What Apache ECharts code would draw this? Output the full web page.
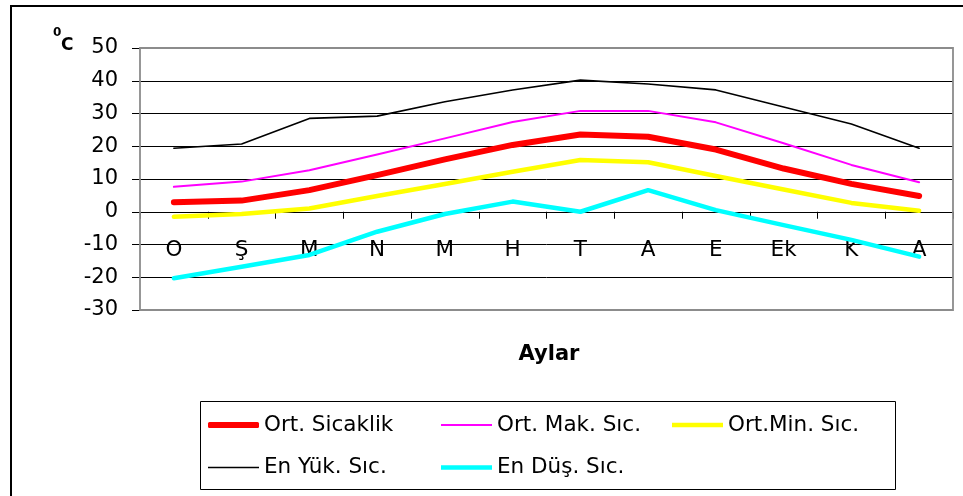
<!DOCTYPE html>
<html>
<head>
<meta charset="utf-8">
<script src="https://cdn.jsdelivr.net/npm/echarts@6/dist/echarts.min.js"></script>
<style>
  html, body { margin: 0; padding: 0; background: #fff; }
  #chart { width: 963px; height: 496px; }
</style>
</head>
<body>
<div id="chart"></div>
<script>
// months (Ocak .. Aralık)
const months = ['O', 'Ş', 'M', 'N', 'M', 'H', 'T', 'A', 'E', 'Ek', 'K', 'A'];

const ortSicaklik = [2.9, 3.4, 6.6, 11.2, 16.0, 20.4, 23.6, 22.9, 19.0, 13.2, 8.5, 4.8];
const ortMak = [7.6, 9.2, 12.7, 17.5, 22.4, 27.4, 30.8, 30.8, 27.3, 20.9, 14.3, 9.0];
const ortMin = [-1.5, -0.7, 1.0, 4.8, 8.5, 12.2, 15.8, 15.1, 10.9, 6.8, 2.7, 0.3];
const enYuk = [19.4, 20.7, 28.5, 29.2, 33.6, 37.2, 40.2, 39.0, 37.2, 32.0, 26.8, 19.4];
const enDus = [-20.3, -16.8, -13.2, -6.1, -0.7, 3.1, 0.0, 6.6, 0.5, -4.1, -8.6, -13.7];

const seriesNames = ['Ort. Sicaklik', 'Ort. Mak. Sıc.', 'Ort.Min. Sıc.', 'En Yük. Sıc.', 'En Düş. Sıc.'];
const seriesData = [ortSicaklik, ortMak, ortMin, enYuk, enDus];
const seriesColors = ['#ff0000', '#ff00ff', '#ffff00', '#000000', '#00ffff'];
const seriesWidths = [6, 2, 4.5, 1.6, 4.5];

const yTicks = { min: -30, max: 50, interval: 10 };

const font = 'DejaVu Sans, Liberation Sans, Arial, sans-serif';

const gridLeft = 140, gridTop = 48, gridRight = 10, gridBottom = 186;
const chartW = 963, chartH = 496;
const plotW = chartW - gridLeft - gridRight;
const plotH = chartH - gridTop - gridBottom;
// x axis sits on the zero line (Excel style)
const zeroOffset = -plotH * (0 - yTicks.min) / (yTicks.max - yTicks.min);

// legend slots (3 on the first row, 2 on the second): x, row centre
const legendPos = [[208, 424], [441, 424], [672, 424], [208, 466.5], [441, 466.5]];

const chart = echarts.init(document.getElementById('chart'));

const option = {
    animation: false,
    grid: {
        left: gridLeft,
        top: gridTop,
        right: gridRight,
        bottom: gridBottom
    },
    xAxis: {
        type: 'category',
        data: months,
        boundaryGap: true,
        position: 'bottom',
        offset: zeroOffset,
        axisLine: { onZero: false, lineStyle: { color: '#000', width: 1 } },
        axisTick: { show: true, length: 7, lineStyle: { color: '#000' } },
        axisLabel: {
            margin: 28,
            color: '#000',
            fontSize: 21.5,
            fontFamily: font,
            interval: 0
        }
    },
    yAxis: {
        type: 'value',
        min: yTicks.min,
        max: yTicks.max,
        interval: yTicks.interval,
        axisLine: { show: false },
        axisTick: { show: true, length: 8, lineStyle: { color: '#000' } },
        axisLabel: {
            margin: 22,
            color: '#000',
            fontSize: 21,
            fontFamily: font
        },
        splitLine: { show: true, lineStyle: { color: '#000', width: 1 } }
    },
    legend: seriesNames.map((name, i) => ({
        data: [{ name, icon: i === 0 ? 'roundRect' : 'rect' }],
        left: legendPos[i][0],
        top: legendPos[i][1] - 10,
        padding: 0,
        itemWidth: 51,
        itemHeight: seriesWidths[i],
        textStyle: { color: '#000', fontSize: 21.5, fontFamily: font }
    })),
    graphic: [
        {
            type: 'rect',
            shape: { x: 11, y: 6, width: 1000, height: 600 },
            style: { fill: 'none', stroke: '#000', lineWidth: 2 },
            silent: true
        },
        {
            // plot area frame
            type: 'rect',
            z: 100,
            shape: { x: gridLeft, y: gridTop, width: plotW, height: plotH },
            style: { fill: 'none', stroke: '#8c8c8c', lineWidth: 1.8 },
            silent: true
        },
        {
            type: 'rect',
            shape: { x: 200.5, y: 401.5, width: 695, height: 88 },
            style: { fill: 'none', stroke: '#000', lineWidth: 1 },
            silent: true
        },
        {
            type: 'text',
            x: 549,
            y: 355,
            style: {
                text: 'Aylar',
                fontSize: 21,
                fontWeight: 'bold',
                fontFamily: font,
                fill: '#000',
                textAlign: 'center',
                textVerticalAlign: 'middle'
            }
        },
        {
            type: 'text',
            x: 53,
            y: 27,
            style: { text: '0', fontSize: 12, fontWeight: 'bold', fontFamily: font, fill: '#000' }
        },
        {
            type: 'text',
            x: 61,
            y: 37,
            style: { text: 'C', fontSize: 17, fontWeight: 'bold', fontFamily: font, fill: '#000' }
        }
    ],
    series: seriesNames.map((name, i) => ({
        name,
        type: 'line',
        data: seriesData[i],
        symbol: 'none',
        color: seriesColors[i],
        lineStyle: { color: seriesColors[i], width: seriesWidths[i], cap: 'round', join: 'round' },
        z: 2 + i
    }))
};

chart.setOption(option);
</script>
</body>
</html>
